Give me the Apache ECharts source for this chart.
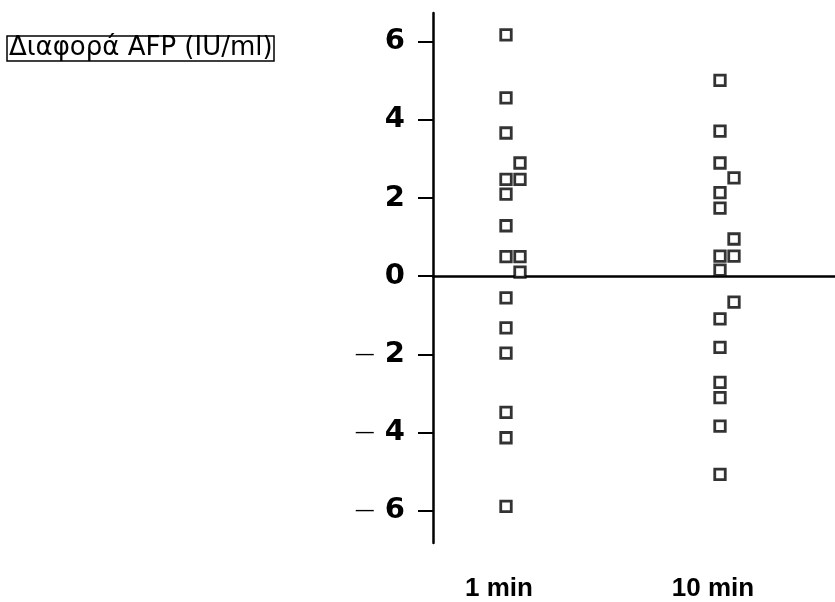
<!DOCTYPE html>
<html>
<head>
<meta charset="utf-8">
<script src="https://cdn.jsdelivr.net/npm/echarts@6/dist/echarts.min.js"></script>
<style>html,body{margin:0;padding:0;background:#fff;}#chart{width:835px;height:602px;}</style>
</head>
<body>
<div id="chart"></div>
<script>
// ---- data ----
const categories = ['1 min', '10 min'];
const oneMinValues = [6.17, 4.55, 3.65, 2.88, 2.46, 2.46, 2.08, 1.27, 0.48, 0.48, 0.08, -0.58, -1.35, -2.0, -3.52, -4.17, -5.93];
const oneMinShifted = [0, 0, 0, 1, 0, 1, 0, 0, 0, 1, 1, 0, 0, 0, 0, 0, 0];
const tenMinValues = [5.0, 3.70, 2.88, 2.50, 2.12, 1.72, 0.93, 0.49, 0.49, 0.13, -0.69, -1.12, -1.85, -2.75, -3.14, -3.87, -5.11];
const tenMinShifted = [0, 0, 0, 1, 0, 0, 1, 0, 1, 0, 1, 0, 0, 0, 0, 0, 0];
const yTickValues = [-6, -4, -2, 0, 2, 4, 6];
const titleText = 'Διαφορά AFP (IU/ml)';

const Y_MIN = -6.82, Y_MAX = 6.73;
const JITTER = 14;

function buildPoints(catIndex, values, shifted) {
  return values.map((v, i) => ({
    value: [catIndex, v],
    symbolOffset: [shifted[i] ? JITTER : 0, 0]
  }));
}

const chart = echarts.init(document.getElementById('chart'), null, {renderer: 'canvas'});
chart.setOption({
  backgroundColor: '#ffffff',
  animation: false,
  title: {
    text: titleText,
    left: 7,
    top: 37,
    padding: [0, 2, 0, 2],
    borderColor: '#000',
    borderWidth: 1.5,
    textStyle: {
      fontFamily: 'DejaVu Sans',
      fontSize: 26,
      lineHeight: 23,
      fontWeight: 'normal',
      color: '#000'
    }
  },
  grid: [
    {left: 433, right: 0, top: 13, bottom: 59},
    {left: 399, right: 8, top: 13, bottom: 59}
  ],
  xAxis: [
    {
      gridIndex: 0, type: 'value', min: 0, max: 1,
      axisLine: {show: true, onZero: true, lineStyle: {color: '#000', width: 2.5}},
      axisTick: {show: false}, axisLabel: {show: false}, splitLine: {show: false}
    },
    {
      gridIndex: 1, type: 'category', data: categories,
      axisLine: {show: false, onZero: false}, axisTick: {show: false}, splitLine: {show: false},
      axisLabel: {
        margin: 35,
        padding: [0, 14, 0, 0],
        fontFamily: 'Liberation Sans', fontSize: 26, fontWeight: 'bold', color: '#000'
      }
    }
  ],
  yAxis: [
    {
      gridIndex: 0, type: 'value', min: Y_MIN, max: Y_MAX,
      axisLine: {show: true, onZero: false, lineStyle: {color: '#000', width: 2.5}},
      axisTick: {show: true, customValues: yTickValues, length: 15, lineStyle: {color: '#000', width: 2}},
      splitLine: {show: false},
      axisLabel: {
        customValues: yTickValues,
        margin: 28,
        formatter: function (v) {
          return v < 0 ? '{m|—}{d|' + Math.abs(v) + '}' : '{d|' + v + '}';
        },
        rich: {
          m: {fontFamily: 'DejaVu Sans', fontSize: 20, fontWeight: 'normal', color: '#000', padding: [0, 10, 0, 0]},
          d: {fontFamily: 'DejaVu Sans', fontSize: 29, fontWeight: 'bold', color: '#000'}
        }
      }
    },
    {
      gridIndex: 1, type: 'value', min: Y_MIN, max: Y_MAX, show: false,
      splitLine: {show: false}
    }
  ],
  series: [
    {
      type: 'scatter', xAxisIndex: 1, yAxisIndex: 1,
      symbol: 'rect', symbolSize: 10.5,
      itemStyle: {color: '#fff', borderColor: '#000', borderWidth: 2.8},
      data: buildPoints(0, oneMinValues, oneMinShifted)
    },
    {
      type: 'scatter', xAxisIndex: 1, yAxisIndex: 1,
      symbol: 'rect', symbolSize: 10.5,
      itemStyle: {color: '#fff', borderColor: '#000', borderWidth: 2.8},
      data: buildPoints(1, tenMinValues, tenMinShifted)
    }
  ]
});
</script>
</body>
</html>
